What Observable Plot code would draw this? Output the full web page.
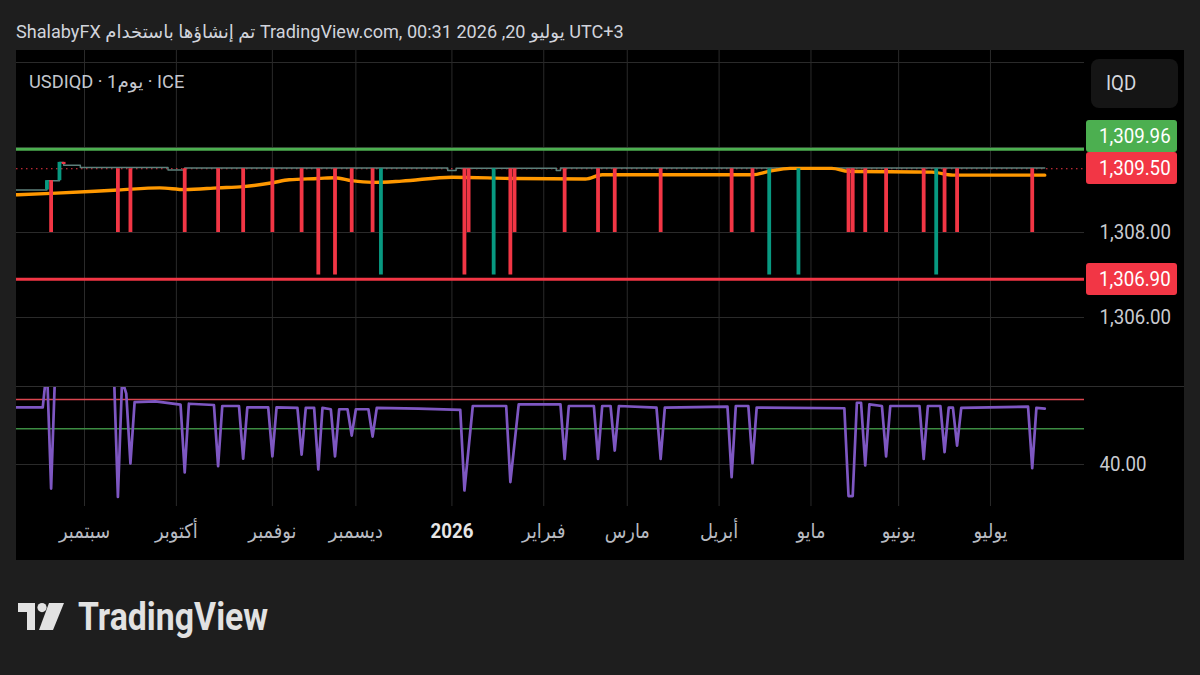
<!DOCTYPE html>
<html>
<head>
<meta charset="utf-8">
<script src="https://cdn.jsdelivr.net/npm/d3@7"></script>
<script src="https://cdn.jsdelivr.net/npm/@observablehq/plot@0.6"></script>
<style>
  html, body { margin: 0; padding: 0; background: #1e1e1e; }
  body { width: 1200px; height: 675px; position: relative; overflow: hidden;
         font-family: Roboto, "DejaVu Sans", sans-serif; }
  .abs { position: absolute; }
  .sq { transform: scaleX(0.89); transform-origin: 0 50%; white-space: nowrap; }
  .nw { white-space: nowrap; }
  #panel { position: absolute; left: 16px; top: 50px; width: 1168px; height: 510px; background: #000; overflow: hidden; }
  .tag { position: absolute; left: 1070px; width: 91px; height: 32px; border-radius: 3px; }
  .tag span { position: absolute; left: 13px; top: 0; line-height: 32px; font-size: 21px; color: #fff; }
</style>
</head>
<body>
<div id="header" class="abs nw" style="left:16px;top:22.6px;font-size:18.1px;line-height:18.1px;color:#d1d4dc;direction:ltr;">ShalabyFX تم إنشاؤها باستخدام TradingView.com, يوليو 20, 2026 00:31 UTC+3</div>
<div id="panel"></div>
<div id="logo" class="abs" style="left:18px;top:603px;">
  <svg width="48" height="28" viewBox="0 0 48 28">
    <path d="M0 0H17V27H9V9H0Z" fill="#e2e2e2"/>
    <circle cx="24" cy="4.6" r="4.6" fill="#e2e2e2"/>
    <path d="M31 0H46L35 27H21Z" fill="#e2e2e2"/>
  </svg>
</div>
<div class="abs sq" style="left:78px;top:598px;font-size:38px;line-height:38px;font-weight:700;color:#e2e2e2;">TradingView</div>

<script>
// ---------- data ----------
const symbolLabel = "USDIQD · 1يوم · ICE";
const currencyLabel = "IQD";

const monthDates  = ["2025-09-01","2025-10-01","2025-11-03","2025-12-01","2026-01-01","2026-02-02","2026-03-02","2026-04-01","2026-05-01","2026-06-01","2026-07-01"];
const monthLabels = ["سبتمبر","أكتوبر","نوفمبر","ديسمبر","2026","فبراير","مارس","أبريل","مايو","يونيو","يوليو"];

// candles that leave the flat close (date, open, close)
const candleDates = ["2025-08-19","2025-08-20","2025-08-22","2025-08-25","2025-09-11","2025-09-16","2025-10-03","2025-10-15","2025-10-23","2025-11-03","2025-11-12","2025-11-18","2025-11-24","2025-11-28","2025-12-05","2025-12-09","2026-01-06","2026-01-07","2026-01-15","2026-01-21","2026-01-22","2026-02-09","2026-02-19","2026-02-25","2026-03-12","2026-04-06","2026-04-13","2026-04-17","2026-04-28","2026-05-14","2026-05-15","2026-05-20","2026-05-27","2026-06-09","2026-06-12","2026-06-16","2026-06-19","2026-07-15"];
const candleOpen  = [1309.00,1309.22,1309.22,1309.65,1309.5,1309.5,1309.5,1309.5,1309.5,1309.5,1309.5,1309.5,1309.5,1309.5,1309.5,1307.0,1309.5,1309.5,1307.0,1309.5,1309.5,1309.5,1309.5,1309.5,1309.5,1309.5,1309.5,1307.0,1307.0,1309.5,1309.5,1309.5,1309.5,1309.5,1307.0,1309.5,1309.5,1309.5];
const candleClose = [1309.22,1308.00,1309.65,1309.60,1308.0,1308.0,1308.0,1308.0,1308.0,1308.0,1308.0,1307.0,1307.0,1308.0,1308.0,1309.5,1307.0,1308.0,1309.5,1307.0,1308.0,1308.0,1308.0,1308.0,1308.0,1308.0,1308.0,1309.5,1309.5,1308.0,1308.0,1308.0,1308.0,1308.0,1309.5,1308.0,1308.0,1308.0];

// flat daily closes (step levels)
const baseDates = ["2025-08-04","2025-08-19","2025-08-22","2025-08-25","2025-08-29","2025-09-29","2025-10-03","2025-12-31","2026-01-02","2026-02-05","2026-02-06","2026-07-20"];
const baseClose = [1309.00,1309.22,1309.65,1309.58,1309.53,1309.47,1309.52,1309.46,1309.51,1309.46,1309.52,1309.52];

// moving average (orange)
const maDates  = ["2025-08-04","2025-08-08","2025-08-20","2025-09-11","2025-09-25","2025-10-03","2025-10-15","2025-10-23","2025-11-03","2025-11-07","2025-11-18","2025-11-24","2025-11-28","2025-12-05","2025-12-16","2026-01-01","2026-01-22","2026-02-16","2026-02-20","2026-04-13","2026-04-17","2026-04-24","2026-05-08","2026-05-14","2026-06-11","2026-06-18","2026-07-20"];
const maValues = [1308.88,1308.89,1308.92,1309.00,1309.05,1309.01,1309.05,1309.08,1309.17,1309.24,1309.27,1309.29,1309.22,1309.18,1309.21,1309.30,1309.27,1309.26,1309.36,1309.36,1309.44,1309.51,1309.51,1309.44,1309.42,1309.35,1309.35];

// oscillator (purple)
const rsiDates  = ["2025-08-06","2025-08-18","2025-08-19","2025-08-20","2025-08-21","2025-09-10","2025-09-11","2025-09-12","2025-09-15","2025-09-16","2025-09-17","2025-09-24","2025-10-02","2025-10-03","2025-10-06","2025-10-14","2025-10-15","2025-10-16","2025-10-22","2025-10-23","2025-10-24","2025-10-31","2025-11-03","2025-11-04","2025-11-11","2025-11-12","2025-11-13","2025-11-17","2025-11-18","2025-11-19","2025-11-21","2025-11-24","2025-11-25","2025-11-27","2025-11-28","2025-12-01","2025-12-04","2025-12-05","2025-12-08","2025-12-22","2026-01-05","2026-01-06","2026-01-08","2026-01-20","2026-01-21","2026-01-23","2026-02-06","2026-02-09","2026-02-10","2026-02-18","2026-02-19","2026-02-20","2026-02-24","2026-02-25","2026-02-26","2026-03-11","2026-03-12","2026-03-13","2026-04-03","2026-04-06","2026-04-07","2026-04-10","2026-04-13","2026-04-14","2026-05-13","2026-05-14","2026-05-15","2026-05-18","2026-05-19","2026-05-20","2026-05-21","2026-05-26","2026-05-27","2026-05-28","2026-06-08","2026-06-09","2026-06-10","2026-06-15","2026-06-16","2026-06-17","2026-06-18","2026-06-19","2026-06-22","2026-07-14","2026-07-15","2026-07-16","2026-07-20"];
const rsiValues = [57.6,57.6,70,32.6,70,70,30,66,61.8,40.3,59.2,59.4,58.4,37.6,58.7,58.3,39.5,58,58,41.8,57.6,57.6,42.5,57.6,57.4,43,57.4,57.4,38.5,57.4,57,42.5,57,57,48.9,57,57,48.6,57.4,57.2,56.8,32,58,58,34.6,58.5,58.5,41.7,58,58,41.7,58,58,44.3,58,57.5,41.7,57.5,57.8,36.1,58,58,40.4,57.5,57.3,30.3,30.3,59,59,39.7,58.5,58,42.5,58,58,41.7,58,58,43.8,57.5,57.5,45.8,57.4,57.8,38.9,57.4,57.2];

const resistance = 1309.96, support = 1306.90, lastPrice = 1309.50;
const priceTicks = [1306, 1308];
const priceGrid  = [1306, 1308, 1310, 1312];
const rsiUpper = 60, rsiLower = 51;
const rsiTicks = [40];

// ---------- helpers ----------
const SQ = 0.89;
const origin = Date.UTC(2025, 8, 1);
// weekday bar index counted from 1 Sep 2025
function bar(s) {
  const [y, m, d] = s.split("-").map(Number);
  const days = Math.round((Date.UTC(y, m - 1, d) - origin) / 864e5);
  const w = Math.floor(days / 7);
  return w * 5 + (days - w * 7);
}
const font = 'Roboto, "DejaVu Sans", sans-serif';
const grid = "#2a2a2a";
const axisColor = "#c9cbd0";
const xDomain = [-16.29, 239.52];
const red = "#f23645", teal = "#089981";

const panel = document.getElementById("panel");

// ---------- price pane ----------
const price = Plot.plot({
  width: 1168, height: 336,
  marginLeft: 0, marginRight: 100, marginTop: 0, marginBottom: 0,
  style: { background: "transparent", color: axisColor, fontFamily: font, overflow: "visible" },
  x: { domain: xDomain, axis: null },
  y: { domain: [1304.3765, 1312.2824] },
  marks: [
    Plot.ruleY(priceGrid, { stroke: grid, strokeWidth: 1 }),
    Plot.ruleX(monthDates, { x: d => bar(d), stroke: grid, strokeWidth: 1 }),
    Plot.axisY(priceTicks, { anchor: "right", tickSize: 0, tickPadding: 15, tickFormat: d3.format(",.2f"), fontSize: 21, label: null }),
    Plot.ruleY([resistance], { stroke: "#4caf50", strokeWidth: 3 }),
    Plot.ruleY([support], { stroke: red, strokeWidth: 3 }),
    Plot.ruleY([lastPrice], { stroke: red, strokeWidth: 1.2, strokeDasharray: "1.5,3.5" }),
    Plot.line(baseDates, { x: d => bar(d), y: (d, i) => baseClose[i], curve: "step-after", stroke: "#5d807b", strokeWidth: 1.5, clip: true }),
    Plot.line(maDates, { x: d => bar(d), y: (d, i) => maValues[i], curve: "monotone-x", stroke: "#ff9800", strokeWidth: 3.4, clip: true }),
    Plot.ruleX(candleDates, { x: d => bar(d), y1: (d, i) => candleOpen[i], y2: (d, i) => candleClose[i],
      filter: (d, i) => candleClose[i] < candleOpen[i], stroke: red, strokeWidth: 3.8 }),
    Plot.ruleX(candleDates, { x: d => bar(d), y1: (d, i) => candleOpen[i], y2: (d, i) => candleClose[i],
      filter: (d, i) => candleClose[i] >= candleOpen[i], stroke: teal, strokeWidth: 3.8 })
  ]
});

// ---------- oscillator pane + time axis ----------
const rsi = Plot.plot({
  width: 1168, height: 174,
  marginLeft: 0, marginRight: 100, marginTop: 0, marginBottom: 54,
  style: { background: "transparent", color: axisColor, fontFamily: font, overflow: "visible" },
  x: { domain: xDomain, axis: null },
  y: { domain: [27.077, 64] },
  marks: [
    Plot.ruleY(rsiTicks, { stroke: grid, strokeWidth: 1 }),
    Plot.ruleX(monthDates, { x: d => bar(d), stroke: grid, strokeWidth: 1 }),
    Plot.ruleY([rsiUpper], { stroke: "#d9464f", strokeWidth: 1.5 }),
    Plot.ruleY([rsiLower], { stroke: "#3c8c43", strokeWidth: 1.3 }),
    Plot.line(rsiDates, { x: d => bar(d), y: (d, i) => rsiValues[i], stroke: "#7e57c2", strokeWidth: 2.7, clip: true }),
    Plot.axisY(rsiTicks, { anchor: "right", tickSize: 0, tickPadding: 15, tickFormat: d3.format(".2f"), fontSize: 21, label: null }),
    Plot.text(monthDates, { x: d => bar(d), text: (d, i) => monthLabels[i], frameAnchor: "bottom", dy: 31,
      filter: (d, i) => !/^\d+$/.test(monthLabels[i]), fontSize: 20, fill: "#b8bbc2" }),
    Plot.text(monthDates, { x: d => bar(d), text: (d, i) => monthLabels[i], frameAnchor: "bottom", dy: 31,
      filter: (d, i) => /^\d+$/.test(monthLabels[i]), fontSize: 21, fontWeight: "bold", fill: "#e6e6e6" })
  ]
});

for (const svg of [price, rsi]) {
  svg.querySelectorAll("text").forEach(t => {
    t.setAttribute("transform", (t.getAttribute("transform") || "") + ` scale(${SQ},1)`);
  });
  svg.style.position = "absolute";
  svg.style.left = "0px";
  panel.appendChild(svg);
}
price.style.top = "0px";
rsi.style.top = "336px";

// pane separator
const sep = document.createElement("div");
sep.style.cssText = "position:absolute;left:0;top:336px;width:1168px;height:1px;background:#2e2e2e;";
panel.appendChild(sep);

// symbol label
const sym = document.createElement("div");
sym.className = "abs nw";
sym.style.cssText += "left:13px;top:23px;font-size:18.3px;line-height:18.3px;color:#c4c7ce;direction:ltr;";
sym.textContent = symbolLabel;
panel.appendChild(sym);

// currency box
const cur = document.createElement("div");
cur.style.cssText = "position:absolute;left:1075px;top:9px;width:87px;height:49px;border-radius:8px;background:#151515;";
const curT = document.createElement("span");
curT.className = "abs sq";
curT.style.cssText += "left:15px;top:0;line-height:49px;font-size:21px;color:#d6d8dd;";
curT.textContent = currencyLabel;
cur.appendChild(curT);
panel.appendChild(cur);

// price tags
const ys = price.scale("y");
const H = 32;
const lastTop = ys.apply(lastPrice) - H / 2;
const resTop = Math.min(ys.apply(resistance) - H / 2, lastTop - H);
const supTop = ys.apply(support) - H / 2;
function tag(value, bg, top) {
  const t = document.createElement("div");
  t.className = "tag";
  t.style.top = top + "px";
  t.style.background = bg;
  const s = document.createElement("span");
  s.className = "sq";
  s.textContent = d3.format(",.2f")(value);
  t.appendChild(s);
  panel.appendChild(t);
}
tag(resistance, "#4caf50", resTop);
tag(lastPrice, red, lastTop);
tag(support, red, supTop);
</script>
</body>
</html>
